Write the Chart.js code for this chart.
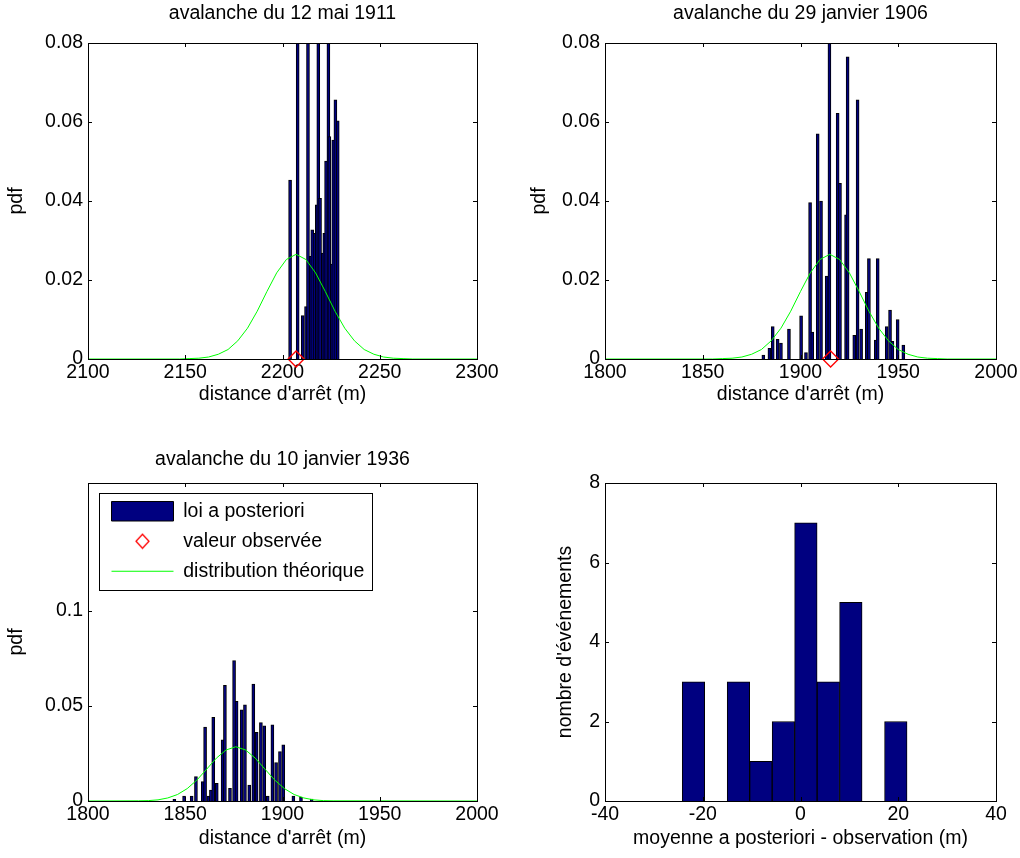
<!DOCTYPE html>
<html>
<head>
<meta charset="utf-8">
<script src="https://cdn.jsdelivr.net/npm/chart.js@4/dist/chart.umd.min.js"></script>
<style>
body { margin: 0; background: #fff; }
canvas { position: absolute; }
</style>
</head>
<body>
<canvas id="c1" width="510" height="406" style="left:0;top:0"></canvas>
<canvas id="c2" width="510" height="406" style="left:510px;top:0"></canvas>
<canvas id="c3" width="510" height="410" style="left:0;top:440px"></canvas>
<canvas id="c4" width="510" height="410" style="left:510px;top:440px"></canvas>
<script>
//avalanche du 12 mai 1911
let bins1 = [2203.9, 2207.8, 2210.4, 2212.1, 2213.1, 2214.5, 2215.3, 2216.5, 2217.6, 2218.4,
	2219.3, 2220.7, 2221.5, 2222.4, 2223.6, 2224.1, 2225.3, 2226.1, 2227.2, 2228.4];
let pdf1 = [0.0453, 0.12, 0.011, 0.0133, 0.11, 0.026, 0.0327, 0.0318, 0.039, 0.10,
	0.0407, 0.0268, 0.0318, 0.0501, 0.09, 0.0563, 0.024, 0.0554, 0.0656, 0.0603];
let curveX1 = [2100, 2147, 2152, 2157, 2162, 2167, 2172, 2177, 2182, 2187, 2192, 2197, 2202, 2207,
	2212, 2217, 2222, 2227, 2232, 2237, 2242, 2247, 2252, 2257, 2262, 2267, 2300];
let curveY1 = [0, 0, 0.0001, 0.0002, 0.0005, 0.0012, 0.0024, 0.0046, 0.0078, 0.0121, 0.0171, 0.0218, 0.0252, 0.0265,
	0.0252, 0.0218, 0.0171, 0.0121, 0.0078, 0.0046, 0.0024, 0.0012, 0.0005, 0.0002, 0.0001, 0, 0];
let obs1 = [2207];
let xTicks1 = [2100, 2150, 2200, 2250, 2300];
let yTicks1 = [0, 0.02, 0.04, 0.06, 0.08];

//avalanche du 29 janvier 1906
let bins2 = [1881.0, 1884.1, 1885.8, 1888.3, 1890.0, 1894.1, 1900.3, 1902.8, 1904.9, 1906.0,
	1908.8, 1910.5, 1913.4, 1914.8, 1919.0, 1920.2, 1923.3, 1924.1, 1927.5, 1929.2,
	1931.0, 1933.9, 1935.0, 1938.5, 1939.5, 1944.1, 1945.8, 1947.0, 1949.7, 1952.6];
let pdf2 = [0.001, 0.0027, 0.0082, 0.005, 0.004, 0.0076, 0.0109, 0.0016, 0.0396, 0.0068,
	0.057, 0.040, 0.021, 0.080, 0.0622, 0.0445, 0.0365, 0.0765, 0.006, 0.0656,
	0.0076, 0.0169, 0.0254, 0.0048, 0.0254, 0.0082, 0.0124, 0.0045, 0.010, 0.0035];
let curveX2 = [1800, 1855, 1860, 1865, 1870, 1875, 1880, 1885, 1890, 1895, 1900, 1905, 1910, 1915,
	1920, 1925, 1930, 1935, 1940, 1945, 1950, 1955, 1960, 1965, 1970, 1975, 2000];
let curveY2 = [0, 0, 0.0001, 0.0002, 0.0005, 0.0012, 0.0024, 0.0046, 0.0078, 0.0121, 0.0171, 0.0218, 0.0252, 0.0265,
	0.0252, 0.0218, 0.0171, 0.0121, 0.0078, 0.0046, 0.0024, 0.0012, 0.0005, 0.0002, 0.0001, 0, 0];
let obs2 = [1915.4];
let xTicks2 = [1800, 1850, 1900, 1950, 2000];
let yTicks2 = [0, 0.02, 0.04, 0.06, 0.08];

//avalanche du 10 janvier 1936
let bins3 = [1844.4, 1849.4, 1853.3, 1855.5, 1859.0, 1860.2, 1861.9, 1863.2, 1864.4, 1866.2,
	1869.2, 1870.4, 1873.0, 1875.1, 1876.4, 1879.0, 1880.7, 1882.9, 1885.0, 1886.7,
	1888.9, 1890.6, 1892.4, 1894.8, 1896.7, 1898.7, 1900.4, 1905.6, 1909.5, 1915.0];
let pdf3 = [0.0009, 0.0026, 0.0026, 0.0128, 0.0102, 0.0388, 0.0026, 0.0058, 0.0439, 0.0093,
	0.0321, 0.0607, 0.0067, 0.0738, 0.0523, 0.0479, 0.0505, 0.0084, 0.0614, 0.0361,
	0.0412, 0.0395, 0.0026, 0.040, 0.0202, 0.026, 0.0295, 0.0026, 0.002, 0.001];
let curveX3 = [1800, 1826, 1831, 1836, 1841, 1846, 1851, 1856, 1861, 1866, 1871, 1876,
	1881, 1886, 1891, 1896, 1901, 1906, 1911, 1916, 1921, 1926, 2000];
let curveY3 = [0, 0.0001, 0.0002, 0.0006, 0.0016, 0.0034, 0.0065, 0.0110, 0.0167, 0.0225, 0.0268, 0.0285,
	0.0268, 0.0225, 0.0167, 0.0110, 0.0065, 0.0034, 0.0016, 0.0006, 0.0002, 0.0001, 0];
let obs3 = []; //not visible on the reference
let xTicks3 = [1800, 1850, 1900, 1950, 2000];
let yTicks3 = [0, 0.05, 0.1];

//histogram of (posterior mean - observation)
let bins4 = [-21.9, -17.3, -12.7, -8.1, -3.5, 1.1, 5.7, 10.3, 14.9, 19.5];
let counts4 = [3, 0, 3, 1, 2, 7, 3, 5, 0, 2];
let xTicks4 = [-40, -20, 0, 20, 40];
let yTicks4 = [0, 2, 4, 6, 8];

const navy = "#000080";
const green = "#00ff00";
const fontSize = 19.5;

Chart.defaults.font.family = "'Liberation Sans', Arial, sans-serif";
Chart.defaults.font.size = fontSize;
Chart.defaults.color = "#000";

//small red diamond for the legend
const diamondIcon = document.createElement("canvas");
diamondIcon.width = 17;
diamondIcon.height = 17;
{
	let dctx = diamondIcon.getContext("2d");
	dctx.strokeStyle = "red";
	dctx.lineWidth = 1.3;
	dctx.beginPath();
	dctx.moveTo(8.5, 1.5);
	dctx.lineTo(15, 8.5);
	dctx.lineTo(8.5, 15.5);
	dctx.lineTo(2, 8.5);
	dctx.closePath();
	dctx.stroke();
}

//matlab style box, inner ticks and legend frame
const frame = {
	id: "frame",
	afterLayout(chart) {
		let lg = chart.legend;
		if (lg && lg.options.display) {
			let a = chart.chartArea;
			lg.left = a.left + 13;
			lg.top = a.top + 8;
			lg.right = a.right;
			lg.bottom = a.bottom;
		}
	},
	afterDraw(chart) {
		const { ctx, chartArea: a, scales } = chart;
		ctx.save();
		ctx.strokeStyle = "#000";
		ctx.lineWidth = 1;
		ctx.beginPath();
		scales.x.ticks.forEach((t) => {
			let px = Math.round(scales.x.getPixelForValue(t.value)) + 0.5;
			ctx.moveTo(px, a.bottom);
			ctx.lineTo(px, a.bottom - 4);
			ctx.moveTo(px, a.top);
			ctx.lineTo(px, a.top + 4);
		});
		scales.y.ticks.forEach((t) => {
			let py = Math.round(scales.y.getPixelForValue(t.value)) + 0.5;
			ctx.moveTo(a.left, py);
			ctx.lineTo(a.left + 4, py);
			ctx.moveTo(a.right, py);
			ctx.lineTo(a.right - 4, py);
		});
		ctx.stroke();
		ctx.strokeRect(Math.round(a.left) + 0.5, Math.round(a.top) + 0.5, Math.round(a.width), Math.round(a.height));

		let lg = chart.legend;
		if (lg && lg.options.display && lg.columnSizes) {
			let pad = lg.options.labels.padding;
			let n = lg.legendItems.length;
			let col = lg.columnSizes[0];
			let bx = Math.round(lg.left - 2) + 0.5;
			let by = Math.round(lg.top + 2) + 0.5;
			let bw = Math.round(pad + col.width + 10);
			let bh = Math.round(n * fontSize + n * pad + 7);
			ctx.strokeRect(bx, by, bw, bh);
		}
		ctx.restore();
	},
};

function makeChart(id, o) {
	return new Chart(document.getElementById(id), {
		type: "bar",
		data: { datasets: o.datasets },
		options: {
			responsive: false,
			animation: false,
			layout: { padding: o.padding },
			plugins: {
				title: o.title
					? { display: true, text: o.title, fullSize: false, font: { weight: "normal" }, color: "#000", padding: o.titlePad }
					: { display: false },
				legend: o.legend || { display: false },
				tooltip: { enabled: false },
			},
			scales: {
				x: {
					type: "linear",
					offset: false,
					bounds: "data",
					min: o.xTicks[0],
					max: o.xTicks[o.xTicks.length - 1],
					grid: { display: false, drawTicks: false },
					border: { display: false },
					afterBuildTicks: (s) => { s.ticks = o.xTicks.map((v) => ({ value: v })); },
					afterFit: (s) => { s.height = o.xHeight; },
					ticks: { padding: 2, maxRotation: 0, autoSkip: false, callback: (v) => String(v) },
					title: { display: true, text: o.xTitle, padding: 0 },
				},
				y: {
					type: "linear",
					bounds: "data",
					min: 0,
					max: o.yMax,
					grid: { display: false, drawTicks: false },
					border: { display: false },
					afterBuildTicks: (s) => { s.ticks = o.yTicks.map((v) => ({ value: v })); },
					afterFit: (s) => { s.width = o.yWidth; },
					ticks: { padding: 5, autoSkip: false, callback: (v) => String(v) },
					title: { display: true, text: o.yTitle, padding: { top: o.yTitlePad, bottom: 0 } },
				},
			},
		},
		plugins: [frame],
	});
}

//the three datasets of an avalanche panel
function avalancheSets(bins, pdf, obs, cx, cy) {
	return [
		{
			label: "loi a posteriori",
			data: bins.map((x, i) => ({ x: x, y: pdf[i] })),
			backgroundColor: navy,
			borderColor: "#000",
			borderWidth: 1,
			barThickness: 3,
			order: 3,
		},
		{
			type: "line",
			label: "valeur observée",
			data: obs.map((x) => ({ x: x, y: 0 })),
			showLine: false,
			clip: false,
			pointStyle: "rectRot",
			pointRadius: 8,
			pointBorderColor: "red",
			pointBackgroundColor: "rgba(0,0,0,0)",
			pointBorderWidth: 1.3,
			order: 1,
		},
		{
			type: "line",
			label: "distribution théorique",
			data: cx.map((x, i) => ({ x: x, y: cy[i] })),
			borderColor: green,
			borderWidth: 1,
			pointRadius: 0,
			tension: 0,
			fill: false,
			order: 2,
		},
	];
}

makeChart("c1", {
	title: "avalanche du 12 mai 1911",
	titlePad: { top: 2.3, bottom: 17.3 },
	padding: { left: 0, right: 33, top: 0, bottom: 0 },
	datasets: avalancheSets(bins1, pdf1, obs1, curveX1, curveY1),
	xTicks: xTicks1, yTicks: yTicks1, yMax: 0.08,
	xTitle: "distance d'arrêt (m)", yTitle: "pdf",
	xHeight: 47, yWidth: 88, yTitlePad: 5.3,
});

makeChart("c2", {
	title: "avalanche du 29 janvier 1906",
	titlePad: { top: 2.3, bottom: 17.3 },
	padding: { left: 0, right: 24, top: 0, bottom: 0 },
	datasets: avalancheSets(bins2, pdf2, obs2, curveX2, curveY2),
	xTicks: xTicks2, yTicks: yTicks2, yMax: 0.08,
	xTitle: "distance d'arrêt (m)", yTitle: "pdf",
	xHeight: 47, yWidth: 95, yTitlePad: 18.3,
});

makeChart("c3", {
	title: "avalanche du 10 janvier 1936",
	titlePad: { top: 8.3, bottom: 11.3 },
	padding: { left: 0, right: 33, top: 0, bottom: 0 },
	datasets: avalancheSets(bins3, pdf3, obs3, curveX3, curveY3),
	xTicks: xTicks3, yTicks: yTicks3, yMax: 0.167,
	xTitle: "distance d'arrêt (m)", yTitle: "pdf",
	xHeight: 49, yWidth: 88, yTitlePad: 5.3,
	legend: {
		display: true,
		position: "chartArea",
		align: "start",
		onClick: null,
		labels: {
			usePointStyle: true,
			pointStyleWidth: 62,
			boxHeight: 22,
			padding: 10.5,
			color: "#000",
			generateLabels: (chart) => {
				let ds = chart.data.datasets;
				return [
					{ text: ds[0].label, fillStyle: navy, strokeStyle: "#000", lineWidth: 1, pointStyle: "rect", datasetIndex: 0 },
					{ text: ds[1].label, fillStyle: "rgba(0,0,0,0)", strokeStyle: "red", lineWidth: 1, pointStyle: diamondIcon, datasetIndex: 1 },
					{ text: ds[2].label, fillStyle: "rgba(0,0,0,0)", strokeStyle: green, lineWidth: 1, pointStyle: "line", datasetIndex: 2 },
				];
			},
		},
	},
});

makeChart("c4", {
	padding: { left: 0, right: 24, top: 43, bottom: 0 },
	datasets: [
		{
			label: "nombre d'événements",
			data: bins4.map((x, i) => ({ x: x, y: counts4[i] })),
			backgroundColor: navy,
			borderColor: "#000",
			borderWidth: 1,
			barPercentage: 1,
			categoryPercentage: 1,
		},
	],
	xTicks: xTicks4, yTicks: yTicks4, yMax: 8,
	xTitle: "moyenne a posteriori - observation (m)", yTitle: "nombre d'événements",
	xHeight: 49, yWidth: 95, yTitlePad: 44.3,
});
</script>
</body>
</html>
